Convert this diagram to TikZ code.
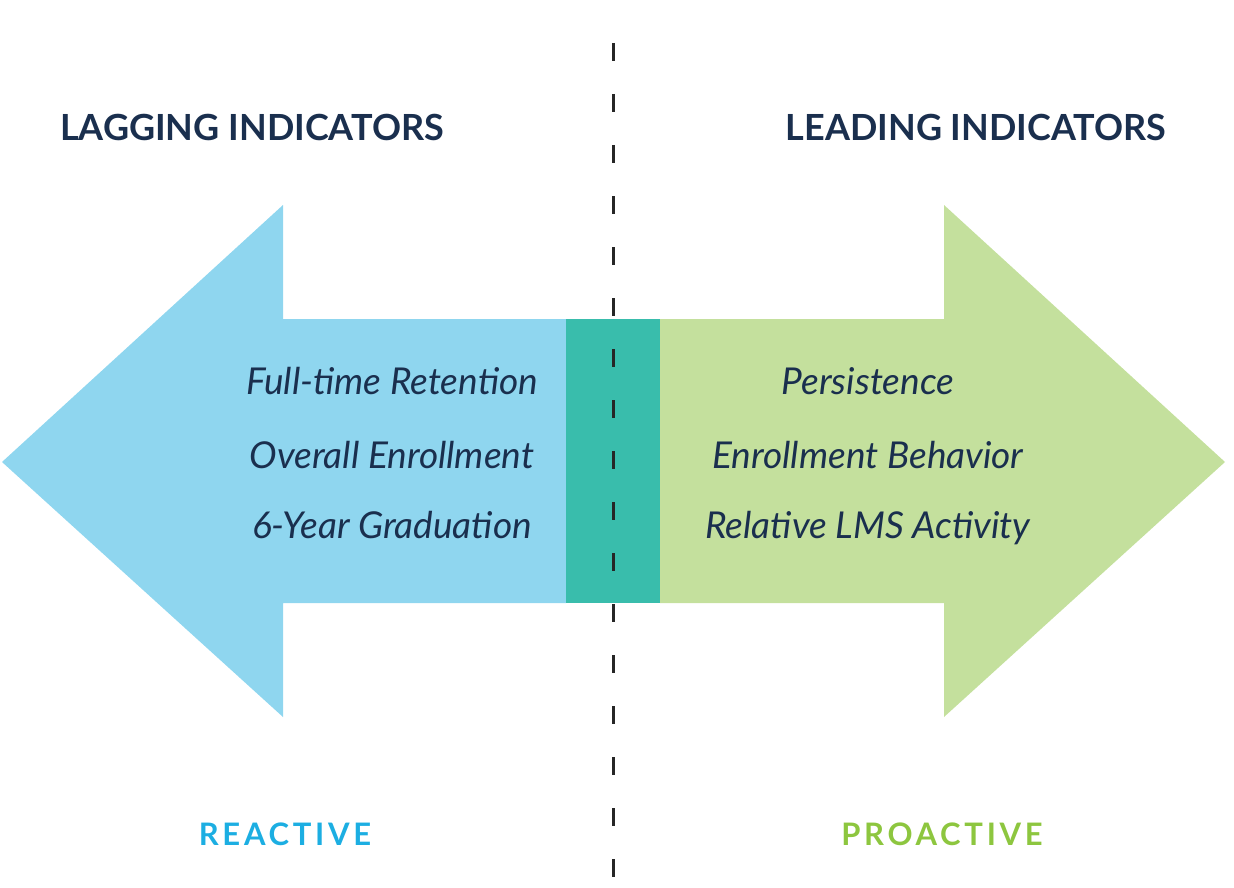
\documentclass[tikz,border=0pt]{standalone}
\usepackage{fontspec}
\setmainfont{Lato}
\definecolor{lblue}{HTML}{8FD6EF}
\definecolor{teal2}{HTML}{39BDAC}
\definecolor{lgreen}{HTML}{C4E09D}
\definecolor{navy}{HTML}{1A2F4E}
\definecolor{rblue}{HTML}{1CAEE2}
\definecolor{pgreen}{HTML}{8DC63F}
\begin{document}
\begin{tikzpicture}[x=1pt,y=-1pt,
  head/.style={font=\fontsize{36}{36}\selectfont\bfseries, text=navy, inner sep=0pt, anchor=base},
  item/.style={font=\fontsize{37}{37}\selectfont\itshape, text=navy, inner sep=0pt, anchor=base},
  foot/.style={font=\fontsize{31}{31}\selectfont\bfseries\addfontfeature{LetterSpace=12}, inner sep=0pt, anchor=base},
  dashline/.style={line width=3pt, dash pattern=on 18pt off 33pt, black!85}]
\useasboundingbox (0,0) rectangle (1234,888);
% left arrow
\fill[lblue] (2,462) -- (283,205) -- (283,319) -- (566,319) -- (566,603) -- (283,603) -- (283,717) -- cycle;
% right arrow
\fill[lgreen] (1225,462) -- (944,205) -- (944,319) -- (660,319) -- (660,603) -- (944,603) -- (944,717) -- cycle;
% overlap
\fill[teal2] (566,319) rectangle (660,603);
% headings
\node[head] (lag) at (252,140) {LAGGING INDICATORS};
\node[head] (lead) at (976,140) {LEADING INDICATORS};
% items
\node[item] (l1) at (392,394) {Full-time Retention};
\node[item] (l2) at (392,468) {Overall Enrollment};
\node[item] (l3) at (392,538) {6-Year Graduation};
\node[item] (r1) at (868,394) {Persistence};
\node[item] (r2) at (868,468) {Enrollment Behavior};
\node[item] (r3) at (868,538) {Relative LMS Activity};
% footers
\node[foot, text=rblue] (rea) at (285,845) {REACTIVE};
\node[foot, text=pgreen] (pro) at (942,845) {PROACTIVE};
% divider
\coordinate (dtop) at (613,43);
\coordinate (dbot) at (613,878);
\draw[dashline] (dtop) -- (dbot);
\end{tikzpicture}
\end{document}
